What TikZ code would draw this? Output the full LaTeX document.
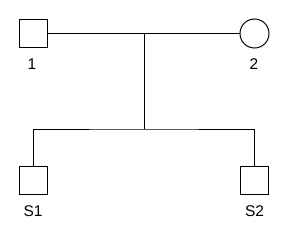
\documentclass[tikz,border=0pt]{standalone}
\usepackage{fontspec}
\setmainfont{Liberation Sans}
\begin{document}
\begin{tikzpicture}[x=1pt,y=-1pt,
  male/.style={draw=black,line width=1pt,minimum size=28pt,inner sep=0pt,fill=white},
  female/.style={circle,draw=black,line width=1pt,minimum size=29pt,inner sep=0pt,fill=white},
  lbl/.style={font=\fontsize{15.5}{16}\selectfont,inner sep=0pt},
  link/.style={draw=black,line width=1pt}]
\useasboundingbox (0,0) rectangle (288,240);
\node[male] (p1) at (33.5,33.5) {};
\node[female] (p2) at (254.5,33.5) {};
\node[male] (s1) at (33.5,180) {};
\node[male] (s2) at (254.5,180) {};
\node[lbl] (l1) at (32,64) {1};
\node[lbl] (l2) at (254,64.5) {2};
\node[lbl] (ls1) at (33,211) {S1};
\node[lbl] (ls2) at (254.5,211) {S2};
\coordinate (m) at (144,33.5);
\coordinate (j) at (144,129);
\draw[link] (p1.east) -- (p2.west);
\draw[link] (m) -- (j);
\draw[link] (s1.north) |- (j) -| (s2.north);
\end{tikzpicture}
\end{document}
